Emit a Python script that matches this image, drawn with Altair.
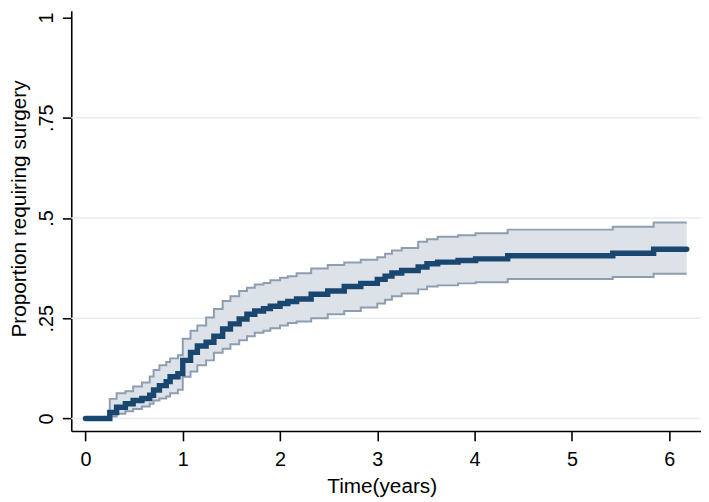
import altair as alt
import pandas as pd

times = [0, 0.25, 0.32, 0.41, 0.49, 0.58, 0.66, 0.70, 0.76, 0.83, 0.87, 0.95,
         1.0, 1.08, 1.15, 1.24, 1.32, 1.41, 1.49, 1.58, 1.66, 1.74, 1.83, 1.90,
         2.0, 2.08, 2.17, 2.32, 2.49, 2.66, 2.83, 3.0, 3.08, 3.15, 3.25, 3.42,
         3.51, 3.62, 3.83, 4.01, 4.34, 5.42, 5.84, 6.18]
estimate = [0, .015, .028, .037, .045, .050, .058, .071, .082, .092, .104, .112,
            .145, .165, .181, .190, .205, .223, .236, .248, .260, .268, .274, .280,
            .287, .292, .298, .310, .318, .329, .337, .347, .355, .363, .369, .378,
            .386, .390, .394, .398, .406, .412, .422, .422]
upper = [0, .049, .063, .068, .080, .090, .105, .121, .133, .141, .150, .158,
         .199, .219, .232, .252, .273, .293, .305, .318, .326, .334, .338, .345,
         .351, .355, .362, .374, .383, .389, .396, .402, .411, .419, .425, .441,
         .447, .453, .457, .462, .471, .478, .489, .489]
lower = [0, .005, .012, .018, .024, .030, .037, .045, .050, .055, .063, .072,
         .104, .117, .133, .145, .164, .174, .185, .195, .205, .214, .219, .225,
         .232, .238, .242, .250, .260, .268, .277, .287, .296, .305, .312, .322,
         .329, .332, .337, .340, .348, .353, .361, .361]
grid_values = [0, 0.25, 0.5, 0.75]
y_ticks = [0, 0.25, 0.5, 0.75, 1]
x_ticks = [0, 1, 2, 3, 4, 5, 6]

df = pd.DataFrame({"t": times, "est": estimate, "hi": upper, "lo": lower})
gdf = pd.DataFrame({"g": grid_values})

xscale = alt.Scale(domain=[-0.146, 6.327], nice=False, zero=False)
yscale = alt.Scale(domain=[-0.031, 1.0165], nice=False, zero=False)

FONT = "Liberation Sans"

xaxis = alt.Axis(values=x_ticks, format="d", title="Time(years)", grid=False, tickSize=10,
                 labelPadding=9, labelFontSize=20, titleFontSize=21,
                 labelFont=FONT, titleFont=FONT, labelColor="#000", titleColor="#000",
                 titleFontWeight="normal", domainColor="#000", tickColor="#000",
                 domainWidth=1.6, tickWidth=1.6, labelFlush=False,
                 titleX=314, titleY=62.7, titleBaseline="alphabetic", titleAlign="center")
yaxis = alt.Axis(values=y_ticks, title="Proportion requiring surgery", grid=False,
                 tickSize=9, labelPadding=10, labelFontSize=20, titleFontSize=21,
                 labelFont=FONT, titleFont=FONT, labelColor="#000", titleColor="#000",
                 titleFontWeight="normal", domainColor="#000", tickColor="#000",
                 domainWidth=1.6, tickWidth=1.6, labelAngle=270, labelAlign="center",
                 labelBaseline="alphabetic", labelFlush=False,
                 labelExpr="replace(toString(datum.value), '0.', '.')",
                 titleAngle=270, titleX=-46, titleY=200, titleBaseline="alphabetic",
                 titleAlign="center")

grid = alt.Chart(gdf).mark_rule(color="#e4eeef", strokeWidth=1.5).encode(
    y=alt.Y("g:Q", scale=yscale, axis=yaxis)
)

band = alt.Chart(df).mark_area(interpolate="step-after", color="#dde2e9", opacity=1).encode(
    x=alt.X("t:Q", scale=xscale, axis=xaxis),
    y=alt.Y("lo:Q", scale=yscale),
    y2="hi:Q",
)

hi_line = alt.Chart(df).mark_line(interpolate="step-after", color="#8e9db0", strokeWidth=2).encode(
    x=alt.X("t:Q", scale=xscale), y=alt.Y("hi:Q", scale=yscale)
)
lo_line = alt.Chart(df).mark_line(interpolate="step-after", color="#8e9db0", strokeWidth=2).encode(
    x=alt.X("t:Q", scale=xscale), y=alt.Y("lo:Q", scale=yscale)
)
est_line = alt.Chart(df).mark_line(interpolate="step-after", color="#1a476f", strokeWidth=5.5,
                                   strokeCap="round").encode(
    x=alt.X("t:Q", scale=xscale), y=alt.Y("est:Q", scale=yscale)
)

chart = alt.layer(grid, band, hi_line, lo_line, est_line).properties(
    width=637, height=425,
    padding={"left": 64, "top": 0, "right": 0, "bottom": 69},
    autosize=alt.AutoSizeParams(type="none"),
    background="white",
).configure_view(stroke=None)

chart.save("out.html", embed_options={"renderer": "svg", "actions": False})
